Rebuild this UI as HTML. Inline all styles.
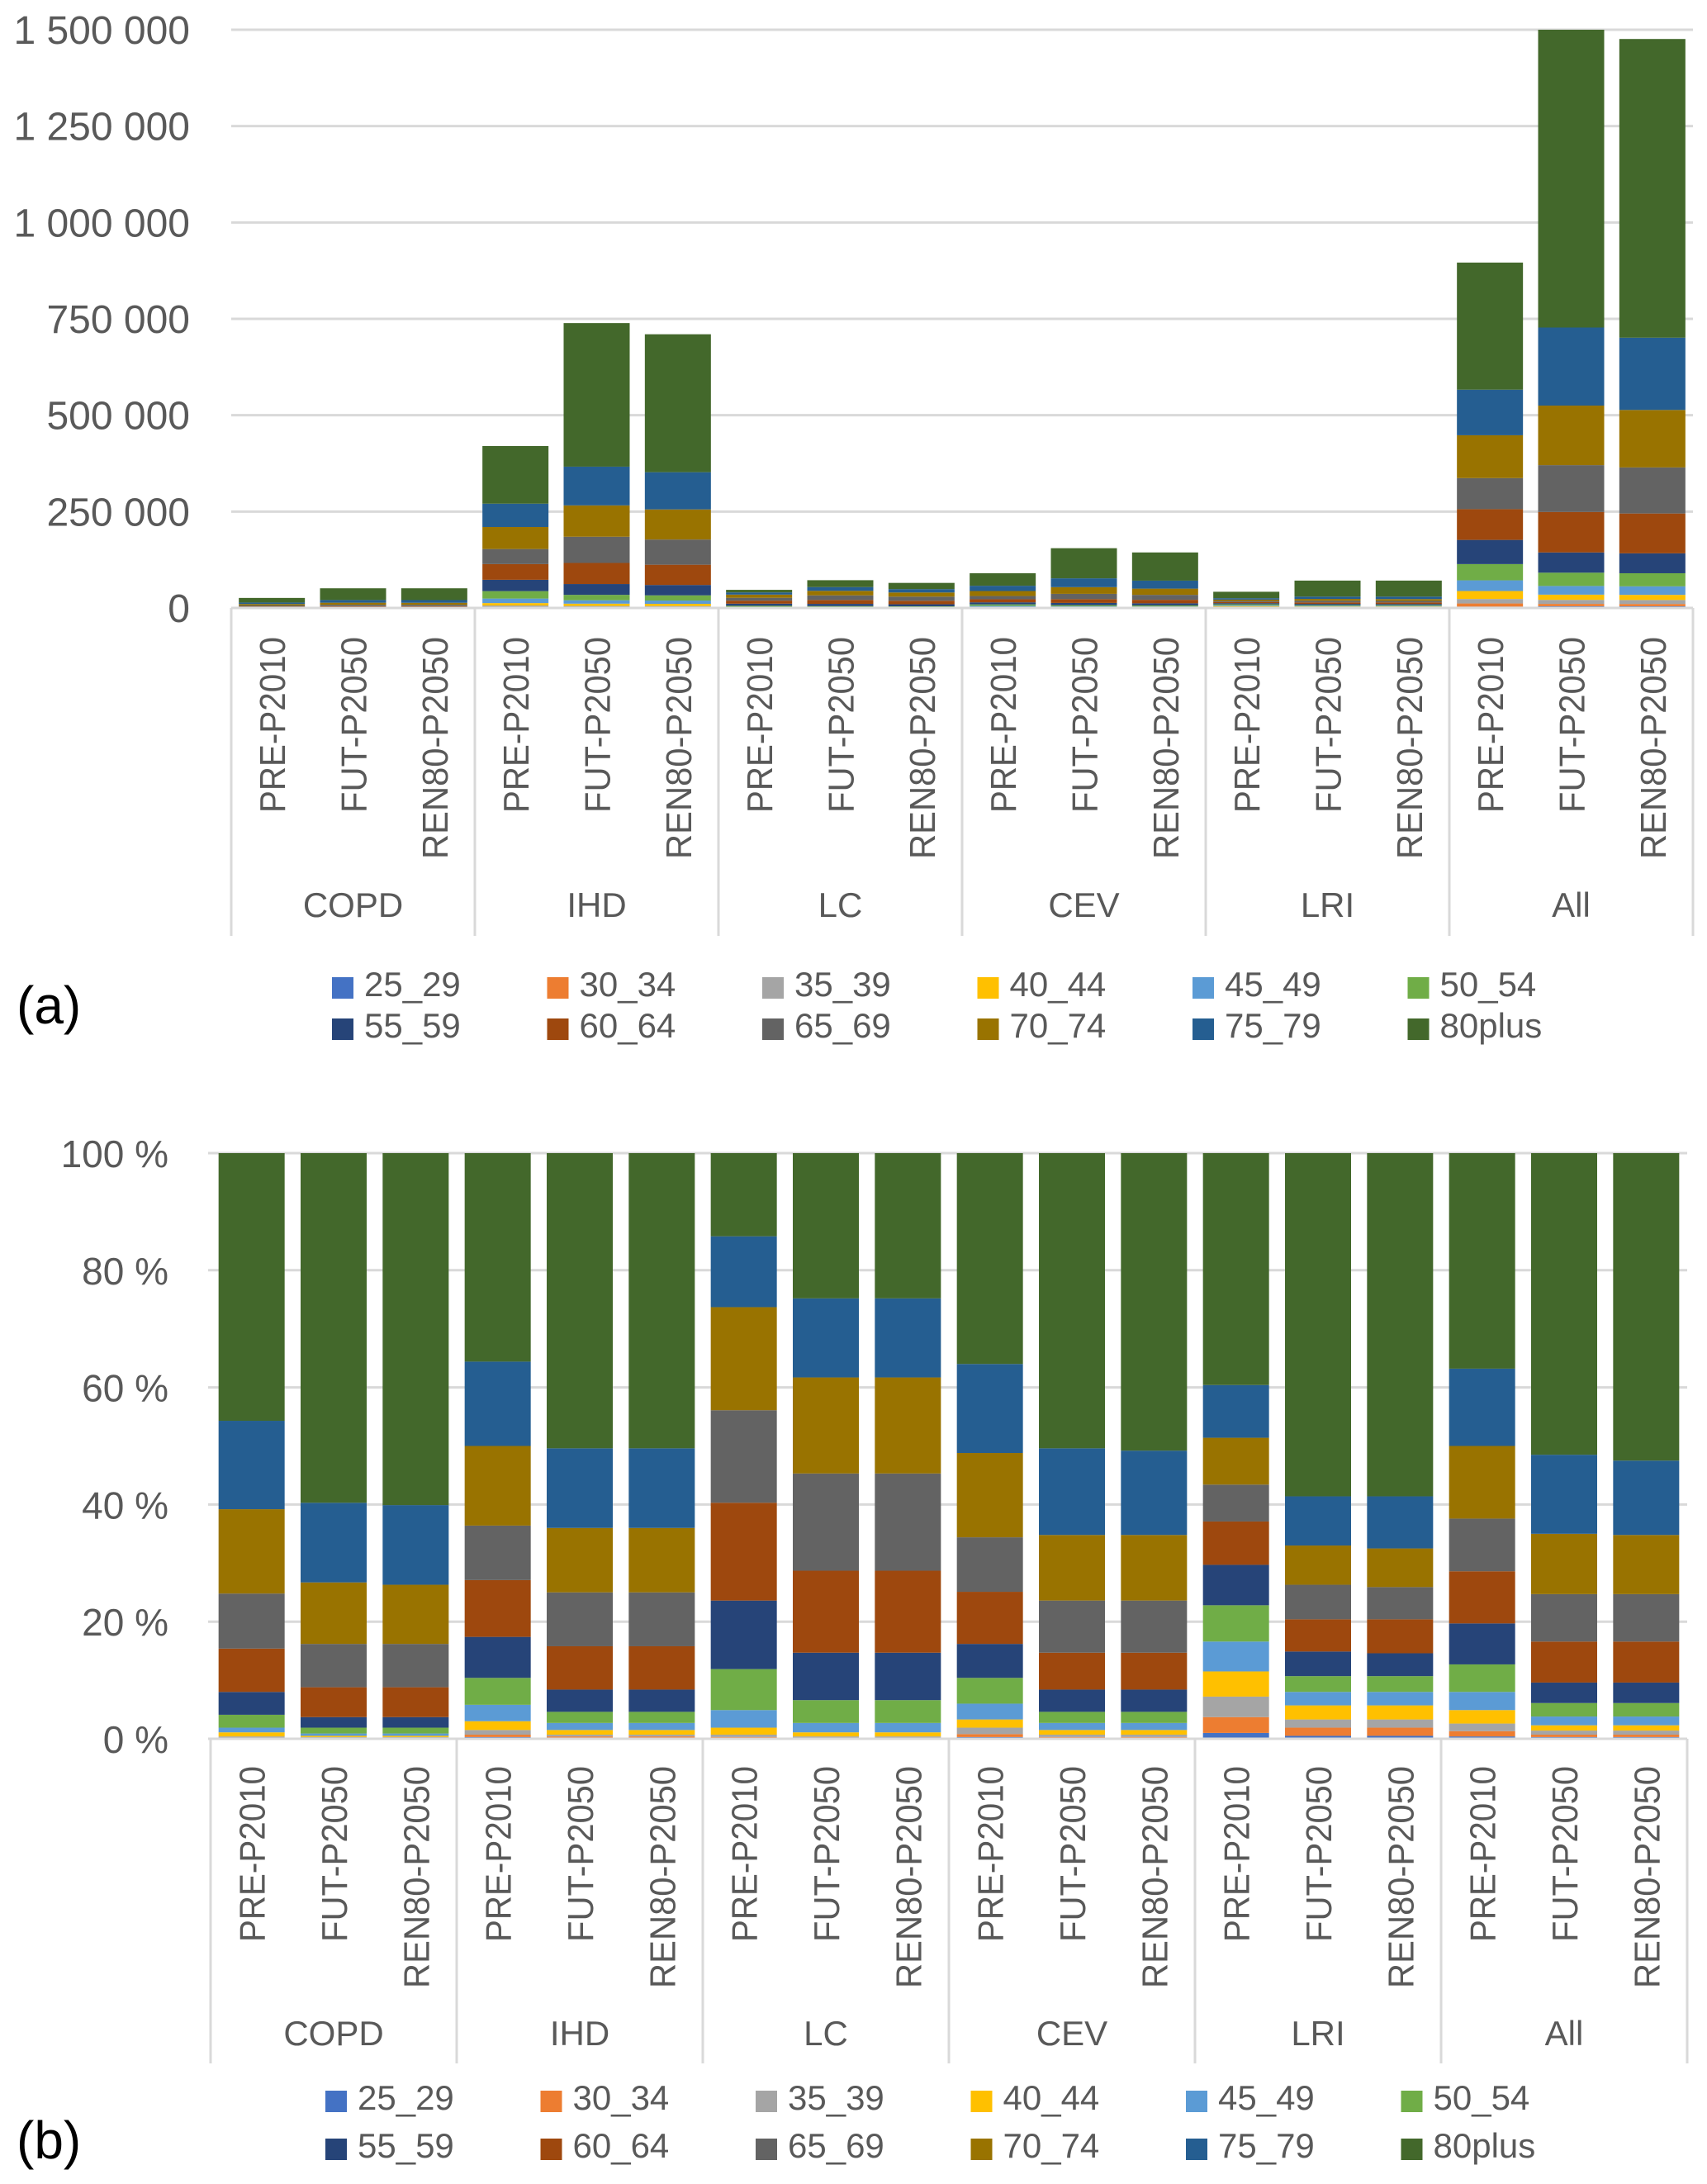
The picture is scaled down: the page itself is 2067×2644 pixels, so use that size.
<!DOCTYPE html>
<html><head><meta charset="utf-8"><style>
html,body{margin:0;padding:0;background:#fff;}
svg{display:block;font-family:"Liberation Sans",sans-serif;}
</style></head><body>
<svg id="fig" width="2067" height="2644" viewBox="0 0 2067 2644" xmlns="http://www.w3.org/2000/svg">
<g id="pa"></g>
<g id="pb"></g>
<text x="20" y="1239" font-size="64" fill="#000">(a)</text>
<text x="20" y="2613" font-size="64" fill="#000">(b)</text>
</svg>
<script>
const groups = ["COPD","IHD","LC","CEV","LRI","All"];
const scenarios = ["PRE-P2010","FUT-P2050","REN80-P2050"];
const seriesNames = ["25_29","30_34","35_39","40_44","45_49","50_54","55_59","60_64","65_69","70_74","75_79","80plus"];
const seriesColors = ["#4472C4","#ED7D31","#A5A5A5","#FFC000","#5B9BD5","#70AD47","#264478","#9E480E","#636363","#997300","#255E91","#43682B"];
// totals per bar (deaths), order: COPD PRE,FUT,REN, IHD ..., All ...
const totals = [26000,51000,51000, 420000,739000,710000, 47000,72000,65000, 90000,155000,144000, 42000,71000,71000, 896000,1500000,1476000];
// cumulative share (%) at top of each age band, per bar
const cum = [
 [0.05,0.2,0.4,1.1,1.9,4.1,8.0,15.4,24.8,39.2,54.3,100],
 [0.05,0.15,0.3,0.5,0.9,1.9,3.7,8.8,16.2,26.7,40.3,100],
 [0.05,0.15,0.3,0.5,0.9,1.9,3.7,8.8,16.2,26.3,39.9,100],
 [0.3,0.7,1.5,3.0,5.8,10.4,17.4,27.1,36.4,50.0,64.4,100],
 [0.1,0.4,0.7,1.5,2.7,4.6,8.4,15.8,25.0,36.0,49.6,100],
 [0.1,0.4,0.7,1.5,2.7,4.6,8.4,15.8,25.0,36.0,49.6,100],
 [0.1,0.3,0.7,1.9,4.9,11.9,23.6,40.3,56.1,73.7,85.8,100],
 [0.05,0.2,0.4,1.1,2.7,6.6,14.7,28.7,45.3,61.7,75.2,100],
 [0.05,0.2,0.4,1.1,2.7,6.6,14.7,28.7,45.3,61.7,75.2,100],
 [0.3,0.8,1.9,3.3,6.0,10.4,16.2,25.1,34.4,48.8,64.0,100],
 [0.1,0.3,0.7,1.5,2.7,4.6,8.4,14.7,23.6,34.8,49.6,100],
 [0.1,0.3,0.7,1.5,2.7,4.6,8.4,14.7,23.6,34.8,49.2,100],
 [1.0,3.7,7.2,11.5,16.6,22.8,29.7,37.1,43.4,51.4,60.4,100],
 [0.5,1.9,3.3,5.7,8.0,10.7,14.9,20.4,26.3,33.0,41.4,100],
 [0.5,1.9,3.3,5.7,8.0,10.7,14.6,20.4,25.9,32.5,41.4,100],
 [0.4,1.3,2.6,4.9,8.0,12.7,19.7,28.6,37.6,50.0,63.2,100],
 [0.3,0.7,1.4,2.3,3.8,6.1,9.6,16.6,24.7,35.0,48.5,100],
 [0.3,0.7,1.4,2.3,3.8,6.1,9.6,16.6,24.7,34.8,47.5,100]
];
const ticksA = [0,250000,500000,750000,1000000,1250000,1500000];
const tickLabelsA = ["0","250 000","500 000","750 000","1 000 000","1 250 000","1 500 000"];
const ticksB = [0,20,40,60,80,100];
const tickLabelsB = ["0 %","20 %","40 %","60 %","80 %","100 %"];

const NS="http://www.w3.org/2000/svg";
function mk(parent,tag,attrs,txt){const e=document.createElementNS(NS,tag);for(const k in attrs)e.setAttribute(k,attrs[k]);if(txt!==undefined)e.textContent=txt;parent.appendChild(e);return e;}

function drawPanel(g,cfg){
  const {x0,x1,y0,y1,vmax,bottom,labelY,catY,legY,legX,tickRight,ticks,tickLabels,tickFont,pct}=cfg;
  const yS=v=>y0-(v/vmax)*(y0-y1);
  const gw=(x1-x0)/groups.length, slot=gw/3, bw=80;
  ticks.forEach((t,i)=>{
    const y=yS(t);
    const l=mk(g,'line',{x1:x0-(pct?3:0),x2:x1,y1:y,y2:y,stroke:'#d9d9d9','stroke-width':3});
    
    
    const tx=mk(g,'text',{x:tickRight,y:y+17,'text-anchor':'end','font-size':tickFont,fill:'#595959'},tickLabels[i]);
    
    
  });
  for(let b=0;b<18;b++){
    const gi=Math.floor(b/3), si=b%3;
    const xl=x0+gi*gw+si*slot+(slot-bw)/2;
    const scale=pct?1:totals[b]/100;
    let prev=0;
    for(let s=0;s<12;s++){
      const v0=prev*scale, v1=cum[b][s]*scale; prev=cum[b][s];
      const r=mk(g,'rect',{x:xl,y:yS(v1),width:bw,height:Math.max(0,yS(v0)-yS(v1)),fill:seriesColors[s]});
      
      
    }
    const cx=xl+bw/2+16;
    const lt=mk(g,'text',{x:cx,y:labelY,transform:`rotate(-90 ${cx} ${labelY})`,'text-anchor':'end','font-size':44,fill:'#595959',textLength:si==2?269:213,lengthAdjust:'spacingAndGlyphs'},scenarios[si]);
    
    
  }
  mk(g,'line',{x1:x0,x2:x1,y1:y0,y2:y0,stroke:'#d9d9d9','stroke-width':3});
  for(let i=0;i<=groups.length;i++){
    const x=x0+i*gw;
    const l=mk(g,'line',{x1:x,x2:x,y1:y0,y2:bottom,stroke:'#d9d9d9','stroke-width':3});
    
    
    if(i<groups.length){
      const c=mk(g,'text',{x:x+gw/2,y:catY,'text-anchor':'middle','font-size':42,fill:'#595959'},groups[i]);
      
      
    }
  }
  seriesNames.forEach((n,s)=>{
    const col=s%6,row=Math.floor(s/6);
    const lx=legX+col*260.5, ly=legY[row];
    const lg=mk(g,'g',{});
    
    
    mk(lg,'rect',{x:lx,y:ly-13,width:26,height:26,fill:seriesColors[s]});
    mk(lg,'text',{x:lx+39,y:ly+10,'font-size':42,fill:'#595959'},n);
  });
}
drawPanel(document.getElementById('pa'),{x0:280,x1:2050,y0:736,y1:36,vmax:1500000,bottom:1133,labelY:771,catY:1110,legY:[1196,1246],legX:402,tickRight:230,ticks:ticksA,tickLabels:tickLabelsA,tickFont:48,pct:false});
drawPanel(document.getElementById('pb'),{x0:255,x1:2043,y0:2105,y1:1396,vmax:100,bottom:2498,labelY:2138,catY:2476,legY:[2544,2602],legX:394,tickRight:204,ticks:ticksB,tickLabels:tickLabelsB,tickFont:46,pct:true});
</script>
</body></html>
